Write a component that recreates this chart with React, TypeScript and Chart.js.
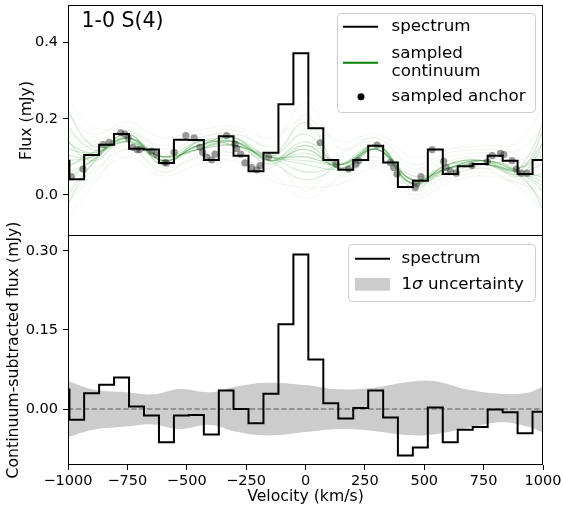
import React, { useEffect, useRef } from 'react';
import { Chart, registerables } from 'chart.js';
Chart.register(...registerables);

const FONT = 'DejaVu Sans';

// bin edges of the spectrum (km/s)
const binEdges = [-1057, -994, -932, -869, -806, -743, -680, -617, -554, -491, -428, -365, -303, -240, -177, -114, -51, 12, 75, 138, 201, 264, 327, 389, 452, 515, 578, 641, 704, 767, 830, 893, 956, 1018];
// observed spectrum (mJy), one value per bin
const spectrumFlux = [0.090, 0.041, 0.105, 0.132, 0.160, 0.121, 0.119, 0.084, 0.145, 0.144, 0.092, 0.154, 0.103, 0.062, 0.111, 0.238, 0.372, 0.175, 0.092, 0.066, 0.092, 0.129, 0.085, 0.021, 0.037, 0.119, 0.055, 0.075, 0.081, 0.103, 0.090, 0.055, 0.092];
// continuum-subtracted spectrum (mJy)
const spectrumSub = [0.037, -0.020, 0.030, 0.046, 0.060, 0.005, -0.012, -0.063, -0.012, -0.011, -0.048, 0.035, 0.000, -0.027, 0.029, 0.161, 0.293, 0.094, 0.011, -0.018, 0.002, 0.035, -0.016, -0.088, -0.073, 0.003, -0.063, -0.039, -0.034, -0.001, -0.006, -0.046, -0.005];

// sampled anchors
const anchorVel = [-986, -937, -852, -827, -778, -761, -747, -728, -709, -698, -648, -627, -592, -585, -553, -504, -469, -445, -433, -416, -395, -381, -332, -297, -290, -273, -255, -227, -205, -191, -156, 62, 129, 181, 213, 223, 301, 357, 371, 385, 462, 469, 486, 533, 582, 593, 610, 635, 701, 765, 786, 821, 835, 870, 888, 909, 933];
const anchorFlux = [0.048, 0.068, 0.132, 0.138, 0.163, 0.160, 0.150, 0.125, 0.119, 0.119, 0.115, 0.107, 0.085, 0.084, 0.112, 0.156, 0.150, 0.125, 0.112, 0.099, 0.092, 0.107, 0.156, 0.134, 0.122, 0.107, 0.084, 0.072, 0.066, 0.077, 0.100, 0.137, 0.081, 0.068, 0.081, 0.090, 0.131, 0.085, 0.072, 0.055, 0.019, 0.030, 0.048, 0.119, 0.088, 0.072, 0.062, 0.057, 0.077, 0.087, 0.103, 0.109, 0.106, 0.090, 0.068, 0.057, 0.057];

// sampled continuum curves, values at the knots
const continuumKnots = [-1050, -900, -750, -600, -450, -300, -150, 0, 150, 300, 450, 600, 750, 900, 1050];
const continuumSamples = [
  [0.02, 0.09, 0.15, 0.09, 0.13, 0.14, 0.09, 0.12, 0.07, 0.12, 0.03, 0.07, 0.09, 0.06, 0.00],
  [0.13, 0.11, 0.14, 0.10, 0.12, 0.15, 0.10, 0.10, 0.08, 0.13, 0.04, 0.08, 0.08, 0.07, 0.18],
  [-0.04, 0.08, 0.16, 0.08, 0.14, 0.13, 0.09, 0.13, 0.07, 0.13, 0.03, 0.06, 0.09, 0.05, -0.06],
  [0.22, 0.12, 0.14, 0.10, 0.12, 0.14, 0.10, 0.09, 0.08, 0.12, 0.05, 0.07, 0.08, 0.07, 0.28],
  [0.07, 0.10, 0.15, 0.09, 0.13, 0.15, 0.09, 0.14, 0.08, 0.12, 0.03, 0.08, 0.09, 0.06, 0.10],
  [0.00, 0.09, 0.15, 0.10, 0.14, 0.13, 0.10, 0.08, 0.07, 0.13, 0.04, 0.07, 0.08, 0.06, 0.04],
  [0.16, 0.11, 0.15, 0.09, 0.12, 0.14, 0.09, 0.11, 0.08, 0.12, 0.04, 0.07, 0.09, 0.05, 0.20],
  [0.09, 0.10, 0.16, 0.09, 0.13, 0.14, 0.10, 0.16, 0.07, 0.13, 0.02, 0.07, 0.09, 0.06, -0.02],
  [-0.09, 0.08, 0.14, 0.10, 0.12, 0.13, 0.10, 0.06, 0.08, 0.12, 0.04, 0.06, 0.08, 0.07, 0.13],
  [0.29, 0.13, 0.15, 0.09, 0.13, 0.15, 0.09, 0.12, 0.07, 0.12, 0.03, 0.08, 0.09, 0.05, 0.06],
  [0.04, 0.09, 0.15, 0.10, 0.13, 0.13, 0.10, 0.10, 0.08, 0.13, 0.04, 0.07, 0.08, 0.06, 0.25],
  [0.11, 0.10, 0.16, 0.08, 0.14, 0.14, 0.08, 0.13, 0.08, 0.12, 0.03, 0.08, 0.09, 0.06, -0.10],
  [0.05, 0.11, 0.14, 0.09, 0.13, 0.14, 0.10, 0.19, 0.07, 0.12, 0.04, 0.07, 0.08, 0.07, 0.15],
  [0.18, 0.09, 0.15, 0.10, 0.12, 0.13, 0.09, 0.04, 0.08, 0.13, 0.03, 0.07, 0.09, 0.06, 0.02],
];
// fainter, more scattered continuum draws
const continuumSamplesWide = [
  [0.25, 0.16, 0.19, 0.15, 0.17, 0.18, 0.15, 0.20, 0.14, 0.16, 0.10, 0.12, 0.13, 0.14, 0.30],
  [-0.05, 0.04, 0.10, 0.05, 0.08, 0.09, 0.04, 0.02, 0.03, 0.07, -0.01, 0.03, 0.05, 0.02, -0.08],
  [0.30, 0.18, 0.17, 0.13, 0.16, 0.17, 0.13, 0.24, 0.12, 0.15, 0.08, 0.11, 0.12, 0.12, 0.22],
  [-0.10, 0.02, 0.12, 0.06, 0.10, 0.10, 0.06, -0.01, 0.05, 0.09, 0.00, 0.04, 0.06, 0.03, 0.00],
  [0.18, 0.14, 0.18, 0.12, 0.15, 0.16, 0.12, 0.06, 0.11, 0.15, 0.07, 0.10, 0.11, 0.10, -0.05],
  [0.00, 0.06, 0.12, 0.07, 0.10, 0.11, 0.07, 0.17, 0.05, 0.10, 0.01, 0.05, 0.07, 0.04, 0.28],
  [0.12, 0.13, 0.17, 0.11, 0.15, 0.16, 0.11, 0.01, 0.10, 0.14, 0.06, 0.09, 0.10, 0.09, 0.16],
  [-0.03, 0.05, 0.13, 0.06, 0.11, 0.11, 0.07, 0.21, 0.06, 0.10, 0.02, 0.05, 0.07, 0.04, -0.09],
];

// 1-sigma uncertainty envelope
const sigmaVel = [-1000, -894, -754, -641, -529, -402, -290, -163, 12, 118, 259, 427, 540, 680, 821, 933, 1000];
const sigmaUpper = [0.053, 0.037, 0.032, 0.028, 0.038, 0.032, 0.043, 0.050, 0.045, 0.038, 0.039, 0.051, 0.053, 0.037, 0.029, 0.031, 0.043];
const sigmaLower = [-0.053, -0.039, -0.033, -0.029, -0.038, -0.030, -0.043, -0.050, -0.043, -0.038, -0.040, -0.049, -0.048, -0.036, -0.025, -0.033, -0.044];

const velTicks = [-1000, -750, -500, -250, 0, 250, 500, 750, 1000];
const fluxTicks = [0, 0.2, 0.4];
const fluxTickLabels = ['0.0', '0.2', '0.4'];
const subTicks = [0, 0.15, 0.3];
const subTickLabels = ['0.00', '0.15', '0.30'];

const stepData = (edges: number[], vals: number[]) =>
  edges.map((x, i) => ({ x, y: vals[Math.min(i, vals.length - 1)] }));
const pairs = (xs: number[], ys: number[]) => xs.map((x, i) => ({ x, y: ys[i] }));

const noPad = (s: any) => {
  s.paddingTop = 0;
  s.paddingBottom = 0;
  s.paddingLeft = 0;
  s.paddingRight = 0;
};

const framePlugin = {
  id: 'frame',
  afterDatasetsDraw(chart: any) {
    const { ctx, chartArea: a } = chart;
    ctx.save();
    ctx.strokeStyle = '#000';
    ctx.lineWidth = 1;
    ctx.strokeRect(a.left + 0.5, a.top + 0.5, a.right - a.left - 1, a.bottom - a.top - 1);
    ctx.restore();
  },
};

function legendBox(ctx: CanvasRenderingContext2D, x: number, y: number, w: number, h: number) {
  ctx.beginPath();
  (ctx as any).roundRect(x + 0.5, y + 0.5, w, h, 4);
  ctx.fillStyle = 'rgba(255,255,255,0.8)';
  ctx.fill();
  ctx.strokeStyle = '#cccccc';
  ctx.lineWidth = 1;
  ctx.stroke();
}

const topDecor = {
  id: 'topDecor',
  afterDraw(chart: any) {
    const { ctx, chartArea: a } = chart;
    ctx.save();
    ctx.fillStyle = '#000';
    ctx.textBaseline = 'middle';
    ctx.font = `20.5px ${FONT}`;
    ctx.fillText('1-0 S(4)', a.left + 13.5, a.top + 17);
    const bw = 198, bh = 99;
    const bx = a.right - 8 - bw, by = a.top + 8;
    legendBox(ctx, bx, by, bw, bh);
    ctx.font = `16.7px ${FONT}`;
    ctx.fillStyle = '#000';
    ctx.lineWidth = 2;
    ctx.strokeStyle = '#000';
    ctx.beginPath(); ctx.moveTo(bx + 6, by + 13.7); ctx.lineTo(bx + 41, by + 13.7); ctx.stroke();
    ctx.fillText('spectrum', bx + 54.5, by + 13.7);
    ctx.strokeStyle = 'green';
    ctx.beginPath(); ctx.moveTo(bx + 6, by + 49.7); ctx.lineTo(bx + 41, by + 49.7); ctx.stroke();
    ctx.fillText('sampled', bx + 54.5, by + 40.3);
    ctx.fillText('continuum', bx + 54.5, by + 58.7);
    ctx.beginPath(); ctx.arc(bx + 24, by + 83.7, 3.5, 0, Math.PI * 2); ctx.fill();
    ctx.fillText('sampled anchor', bx + 54.5, by + 83.7);
    ctx.restore();
  },
};

const botDecor = {
  id: 'botDecor',
  afterDraw(chart: any) {
    const { ctx, chartArea: a } = chart;
    ctx.save();
    const bw = 187, bh = 57;
    const bx = a.right - 8 - bw, by = a.top + 9;
    legendBox(ctx, bx, by, bw, bh);
    ctx.font = `16.7px ${FONT}`;
    ctx.textBaseline = 'middle';
    ctx.fillStyle = '#000';
    ctx.lineWidth = 2;
    ctx.strokeStyle = '#000';
    ctx.beginPath(); ctx.moveTo(bx + 7, by + 14.7); ctx.lineTo(bx + 42, by + 14.7); ctx.stroke();
    ctx.fillText('spectrum', bx + 53.5, by + 14.7);
    ctx.fillStyle = '#cccccc';
    ctx.fillRect(bx + 7, by + 34, 35, 12.7);
    ctx.fillStyle = '#000';
    let tx = bx + 53.5;
    const ty = by + 40.3;
    ctx.fillText('1', tx, ty);
    tx += ctx.measureText('1').width;
    ctx.font = `italic 16.7px ${FONT}`;
    ctx.fillText('\u03c3', tx, ty);
    tx += ctx.measureText('\u03c3').width;
    ctx.font = `16.7px ${FONT}`;
    ctx.fillText(' uncertainty', tx, ty);
    ctx.restore();
  },
};

const tickFont = { family: FONT, size: 14.5 };
const titleFont = { family: FONT, size: 15.7 };

export default function App() {
  const topRef = useRef<HTMLCanvasElement>(null);
  const botRef = useRef<HTMLCanvasElement>(null);

  useEffect(() => {
    Chart.defaults.font.family = FONT;
    Chart.defaults.color = '#000';

    const topChart = new Chart(topRef.current as HTMLCanvasElement, {
      type: 'line',
      data: {
        datasets: [
          {
            data: stepData(binEdges, spectrumFlux),
            borderColor: '#000',
            borderWidth: 2,
            pointRadius: 0,
            stepped: true,
            order: 0,
          } as any,
          {
            data: pairs(anchorVel, anchorFlux),
            showLine: false,
            pointRadius: 3.6,
            pointBackgroundColor: 'rgba(30,30,30,0.45)',
            pointBorderWidth: 0,
            order: 1,
          },
          ...continuumSamples.map((s) => ({
            data: pairs(continuumKnots, s),
            borderColor: 'rgba(0,128,0,0.15)',
            borderWidth: 1.2,
            pointRadius: 0,
            tension: 0.4,
            order: 2,
          })),
          ...continuumSamplesWide.map((s) => ({
            data: pairs(continuumKnots, s),
            borderColor: 'rgba(0,128,0,0.07)',
            borderWidth: 1,
            pointRadius: 0,
            tension: 0.4,
            order: 3,
          })),
        ],
      },
      options: {
        animation: false,
        responsive: false,
        events: [],
        layout: { padding: { left: 0, right: 20, top: 5, bottom: 4 } },
        plugins: { legend: { display: false }, tooltip: { enabled: false } },
        scales: {
          x: { type: 'linear', min: -1000, max: 1000, display: false },
          y: {
            type: 'linear',
            min: -0.108,
            max: 0.499,
            afterFit: (s: any) => { s.width = 68; noPad(s); },
            afterBuildTicks: (s: any) => { s.ticks = fluxTicks.map((v) => ({ value: v })); },
            ticks: { font: tickFont, color: '#000', padding: 5, callback: (_v: any, i: number) => fluxTickLabels[i] },
            grid: { drawOnChartArea: false, drawTicks: true, tickLength: 5, color: '#000' },
            border: { display: false },
            title: { display: true, text: 'Flux (mJy)', font: titleFont, color: '#000', padding: { top: 17.5, bottom: 0 } },
          },
        },
      },
      plugins: [framePlugin, topDecor],
    } as any);

    const botChart = new Chart(botRef.current as HTMLCanvasElement, {
      type: 'line',
      data: {
        datasets: [
          {
            data: stepData(binEdges, spectrumSub),
            borderColor: '#000',
            borderWidth: 2,
            pointRadius: 0,
            stepped: true,
            order: 0,
          } as any,
          {
            data: [{ x: -1100, y: 0 }, { x: 1100, y: 0 }],
            borderColor: 'gray',
            borderWidth: 1.5,
            borderDash: [5.5, 2.4],
            pointRadius: 0,
            order: 1,
          },
          {
            data: pairs(sigmaVel, sigmaUpper),
            borderWidth: 0,
            borderColor: 'rgba(0,0,0,0)',
            backgroundColor: '#cccccc',
            fill: '+1',
            pointRadius: 0,
            tension: 0.4,
            order: 2,
          },
          {
            data: pairs(sigmaVel, sigmaLower),
            borderWidth: 0,
            borderColor: 'rgba(0,0,0,0)',
            pointRadius: 0,
            tension: 0.4,
            order: 3,
          },
        ],
      },
      options: {
        animation: false,
        responsive: false,
        events: [],
        layout: { padding: { left: 0, right: 20, top: 35, bottom: 0 } },
        plugins: { legend: { display: false }, tooltip: { enabled: false } },
        scales: {
          x: {
            type: 'linear',
            min: -1000,
            max: 1000,
            afterFit: (s: any) => { s.height = 46; noPad(s); },
            afterBuildTicks: (s: any) => { s.ticks = velTicks.map((v) => ({ value: v })); },
            ticks: {
              font: tickFont,
              color: '#000',
              padding: 3,
              autoSkip: false,
              maxRotation: 0,
              callback: (v: any) => String(v).replace('-', '\u2212'),
            },
            grid: { drawOnChartArea: false, drawTicks: true, tickLength: 5, color: '#000' },
            border: { display: false },
            title: { display: true, text: 'Velocity (km/s)', font: titleFont, color: '#000', padding: { top: 0, bottom: 4.6 } },
          },
          y: {
            type: 'linear',
            min: -0.106,
            max: 0.33,
            afterFit: (s: any) => { s.width = 68; noPad(s); },
            afterBuildTicks: (s: any) => { s.ticks = subTicks.map((v) => ({ value: v })); },
            ticks: { font: tickFont, color: '#000', padding: 5, callback: (_v: any, i: number) => subTickLabels[i] },
            grid: { drawOnChartArea: false, drawTicks: true, tickLength: 5, color: '#000' },
            border: { display: false },
            title: { display: true, text: 'Continuum-subtracted flux (mJy)', font: titleFont, color: '#000', padding: { top: 4.6, bottom: 0 } },
          },
        },
      },
      plugins: [framePlugin, botDecor],
    } as any);

    return () => {
      topChart.destroy();
      botChart.destroy();
    };
  }, []);

  return (
    <div style={{ position: 'fixed', left: 0, top: 0, width: 563, height: 511, background: '#fff' }}>
      <canvas ref={topRef} width={563} height={240} style={{ position: 'absolute', left: 0, top: 0 }} />
      <canvas ref={botRef} width={563} height={311} style={{ position: 'absolute', left: 0, top: 200 }} />
    </div>
  );
}
